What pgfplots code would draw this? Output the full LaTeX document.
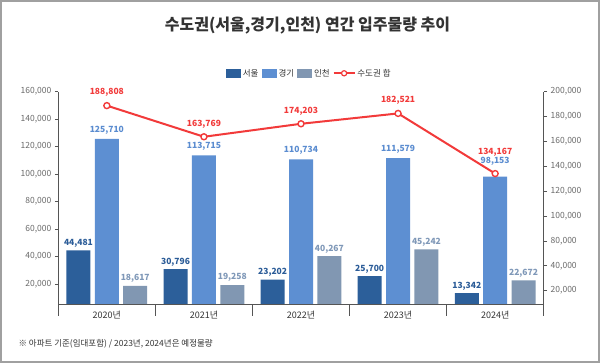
\documentclass[border=0pt]{standalone}
\usepackage{pgfplots}
\pgfplotsset{compat=1.18}
\usepackage{fontspec}
\setmainfont{Noto Sans CJK KR}
\definecolor{seoul}{HTML}{2C5F9A}
\definecolor{gyeonggi}{HTML}{5D8FD2}
\definecolor{incheon}{HTML}{8197B2}
\definecolor{seoullab}{HTML}{2B5C98}
\definecolor{gyeonggilab}{HTML}{5A8CD0}
\definecolor{incheonlab}{HTML}{7F98B8}
\definecolor{linered}{HTML}{F23A3A}
\definecolor{titlegray}{HTML}{333333}
\definecolor{tickgray}{HTML}{6A6A6A}
\definecolor{axisgray}{HTML}{555555}
\definecolor{framegray}{HTML}{A0A0A0}
\begin{document}
\begin{tikzpicture}[x=1pt,y=1pt]
\useasboundingbox (0,0) rectangle (600,363);
\fill[white] (0,0) rectangle (600,363);
\draw[line width=2pt, color=framegray] (1,1) rectangle (599,362);
\node[font=\fontsize{16}{18}\selectfont\bfseries, text=titlegray] at (307.5,337) {수도권(서울,경기,인천) 연간 입주물량 추이};
\node[anchor=west, font=\fontsize{8.5}{10}\selectfont, text=titlegray] at (15,19.7) {※ 아파트 기준(임대포함) / 2023년, 2024년은 예정물량};

\begin{axis}[
  at={(58.3pt,59pt)}, anchor=south west, scale only axis,
  width=485.4pt, height=212.3pt, clip=false,
  ybar, bar width=24pt, ybar=4.4pt,
  xmin=-0.5, xmax=4.5, ymin=5440, ymax=160000,
  axis x line*=bottom, axis y line*=left,
  axis line style={draw=axisgray, line width=0.7pt, -},
  tick align=outside,
  xtick={-0.5,0.5,1.5,2.5,3.5,4.5},
  xticklabels={2020년,2021년,2022년,2023년,2024년,{}},
  xticklabel style={xshift=48.54pt, font=\fontsize{9}{10}\selectfont, text=titlegray},
  xtick style={draw=axisgray, line width=0.7pt, /pgfplots/major tick length=12pt},
  ytick={20000,40000,60000,80000,100000,120000,140000,160000},
  ytick style={draw=axisgray, line width=0.7pt},
  major tick length=3.5pt,
  scaled y ticks=false,
  yticklabel style={font=\fontsize{8.5}{10}\selectfont, text=tickgray},
  /pgf/number format/.cd, 1000 sep={,}, assume math mode=true, fixed,
  /pgfplots/.cd,
  nodes near coords,
  nodes near coords style={font=\fontsize{8.5}{10}\selectfont\bfseries, anchor=south, inner sep=1.5pt, yshift=1.5pt},
  legend style={at={(0.517,1.0867)}, anchor=center, draw=none, fill=none,
    font=\fontsize{8.5}{9}\selectfont, text=titlegray,
    /tikz/every even column/.append style={column sep=1pt},
    /tikz/every odd column/.append style={column sep=0pt}},
  legend columns=-1,
  legend cell align=left,
]
\addplot[fill=seoul, draw=none, nodes near coords style={text=seoullab},
  legend image code/.code={\fill[seoul] (0pt,-4.5pt) rectangle (15pt,4.5pt);}]
  coordinates {(0,44481) (1,30796) (2,23202) (3,25700) (4,13342)};
\addlegendentry{서울\hspace{13pt}}
\addplot[fill=gyeonggi, draw=none,
  visualization depends on={\thisrow{s} \as \lshift},
  nodes near coords style={text=gyeonggilab, yshift=\lshift},
  legend image code/.code={\fill[gyeonggi] (0pt,-4.5pt) rectangle (15pt,4.5pt);}]
  table[x=x, y=y, row sep=\\] {x y s\\ 0 125710 1.5\\ 1 113715 1.5\\ 2 110734 1.5\\ 3 111579 1.5\\ 4 98153 8\\};
\addlegendentry{경기\hspace{13pt}}
\addplot[fill=incheon, draw=none, nodes near coords style={text=incheonlab},
  legend image code/.code={\fill[incheon] (0pt,-4.5pt) rectangle (15pt,4.5pt);}]
  coordinates {(0,18617) (1,19258) (2,40267) (3,45242) (4,22672)};
\addlegendentry{인천\hspace{5pt}}
\addlegendimage{legend image code/.code={\draw[linered, line width=1.6pt] (0pt,0pt) -- (21pt,0pt); \draw[linered, line width=1.2pt, fill=white] (10.5pt,0pt) circle (2.6pt);}}
\addlegendentry{수도권 합}
\end{axis}

\begin{axis}[
  at={(58.3pt,59pt)}, anchor=south west, scale only axis,
  width=485.4pt, height=212.3pt, clip=false,
  xmin=-0.5, xmax=4.5, ymin=29310, ymax=200000,
  axis x line=none, axis y line*=right,
  axis line style={draw=axisgray, line width=0.7pt, -},
  tick align=outside,
  scaled y ticks=false,
  ytick={40000,60000,80000,100000,120000,140000,160000,180000,200000},
  yticklabels={{20,000},{40,000},{80,000},{100,000},{120,000},{140,000},{160,000},{180,000},{200,000}},
  ytick style={draw=axisgray, line width=0.7pt},
  major tick length=3.5pt,
  yticklabel style={font=\fontsize{8.5}{10}\selectfont, text=tickgray},
  /pgf/number format/.cd, 1000 sep={,}, assume math mode=true, fixed,
  /pgfplots/.cd,
]
\addplot[linered, line width=2pt, mark=*, mark size=3pt,
  mark options={fill=white, draw=linered, line width=1.4pt},
  nodes near coords,
  visualization depends on={\thisrow{s} \as \lshift},
  nodes near coords style={font=\fontsize{8.5}{10}\selectfont\bfseries, text=linered, anchor=south, inner sep=1.5pt, yshift=\lshift}]
  table[x=x, y=y, row sep=\\] {x y s\\ 0 188808 6.5\\ 1 163769 6.5\\ 2 174203 6.5\\ 3 182521 6.5\\ 4 134167 14.5\\};
\end{axis}
\end{tikzpicture}
\end{document}
